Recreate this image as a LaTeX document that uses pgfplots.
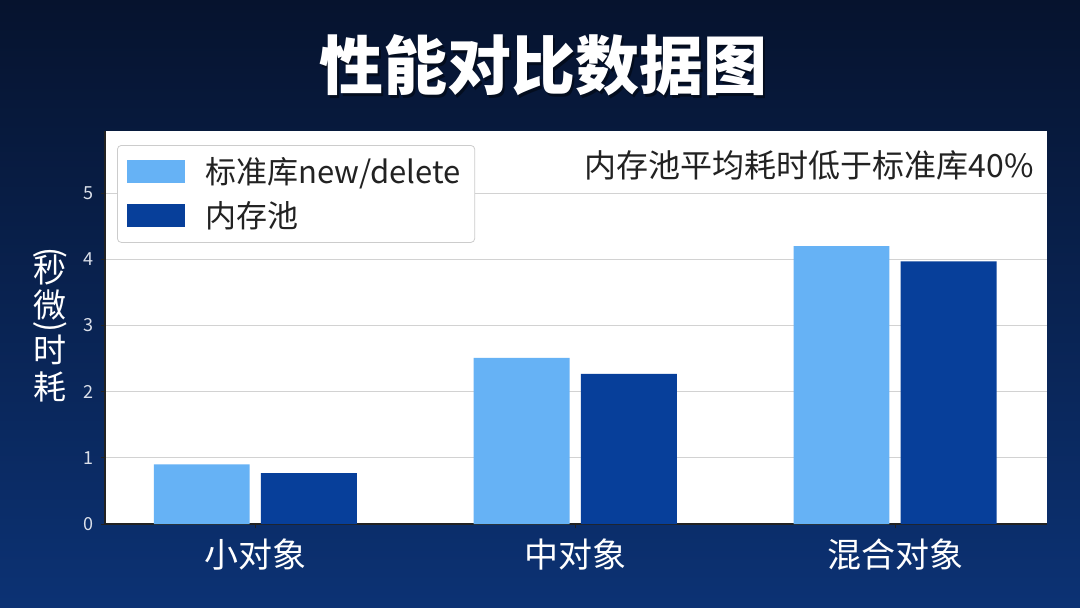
\documentclass[border=0pt]{standalone}
\usepackage{fontspec}
\usepackage{graphicx}
\usepackage{pgfplots}
\pgfplotsset{compat=1.18}
\setmainfont{Noto Sans CJK SC}

\definecolor{bgtop}{HTML}{06132E}
\definecolor{bgbot}{HTML}{0C3274}
\definecolor{stdlib}{HTML}{66B2F5}
\definecolor{mempool}{HTML}{073F9A}
\definecolor{txt}{HTML}{222222}

\begin{document}
\begin{tikzpicture}
  % background, 1px = 0.5pt
  \shade[top color=bgtop, bottom color=bgbot] (0,0) rectangle (540pt,303.5pt);

  % title
  \node[text=black, opacity=0.45, font=\fontsize{32}{36}\selectfont\bfseries]
    at (272.5pt,269.5pt) {性能对比数据图};
  \node[text=white, font=\fontsize{32}{36}\selectfont\bfseries]
    at (271.5pt,271pt) {性能对比数据图};

  % y label, upright characters stacked
  \begin{scope}[every node/.style={text=white, font=\fontsize{16.5}{18}\selectfont}]
    \node at (25pt,177pt) {\rotatebox{90}{)}};
    \node at (25pt,168.5pt) {秒};
    \node at (25pt,151pt) {微};
    \node at (25pt,140pt) {\rotatebox{90}{(}};
    \node at (25pt,128.5pt) {时};
    \node at (25pt,110pt) {耗};
  \end{scope}

  \begin{axis}[
    at={(52.5pt,41.5pt)}, anchor=south west,
    scale only axis,
    width=471pt, height=196.5pt,
    ybar,
    bar width=0.3,
    xmin=-0.47, xmax=2.475,
    ymin=0, ymax=5.94,
    xtick={0,1,2},
    xticklabels={小对象,中对象,混合对象},
    ytick={0,1,2,3,4,5},
    axis x line*=bottom,
    axis y line*=left,
    axis line style={draw=txt, line width=0.6pt},
    tick align=outside,
    major tick length=2pt,
    tick style={draw=txt, line width=0.5pt},
    axis background/.style={fill=white},
    ymajorgrids,
    grid style={draw=gray!35, line width=0.5pt},
    /pgf/number format/assume math mode=true,
    yticklabel style={text=white!85!bgbot, font=\fontsize{9}{10}\selectfont},
    xticklabel style={text=white, font=\fontsize{17}{20}\selectfont, yshift=-2pt},
    legend style={
      at={(0,1)}, anchor=north west, xshift=6pt, yshift=-7pt,
      draw=gray!40, rounded corners=2pt, fill=white,
      font=\fontsize{15.5}{18}\selectfont, text=txt,
      inner xsep=5pt, inner ysep=4pt, row sep=3.5pt,
      /tikz/every odd column/.append style={column sep=8pt},
    },
    legend cell align=left,
    legend image code/.code={\fill[#1, sharp corners] (0pt,-5.75pt) rectangle (29pt,5.75pt);},
  ]
  \addplot[fill=stdlib, draw=none, bar shift=-0.1675]
    coordinates {(0,0.90) (1,2.51) (2,4.20)};
  \addlegendentry{标准库new/delete}
  \addplot[fill=mempool, draw=none, bar shift=0.1675]
    coordinates {(0,0.77) (1,2.27) (2,3.97)};
  \addlegendentry{内存池}

  \node[anchor=east, text=txt, font=\fontsize{16}{19}\selectfont,
        xshift=-3pt, yshift=-17pt] at (rel axis cs:1,1) {内存池平均耗时低于标准库40\%};
  \end{axis}
\end{tikzpicture}
\end{document}
